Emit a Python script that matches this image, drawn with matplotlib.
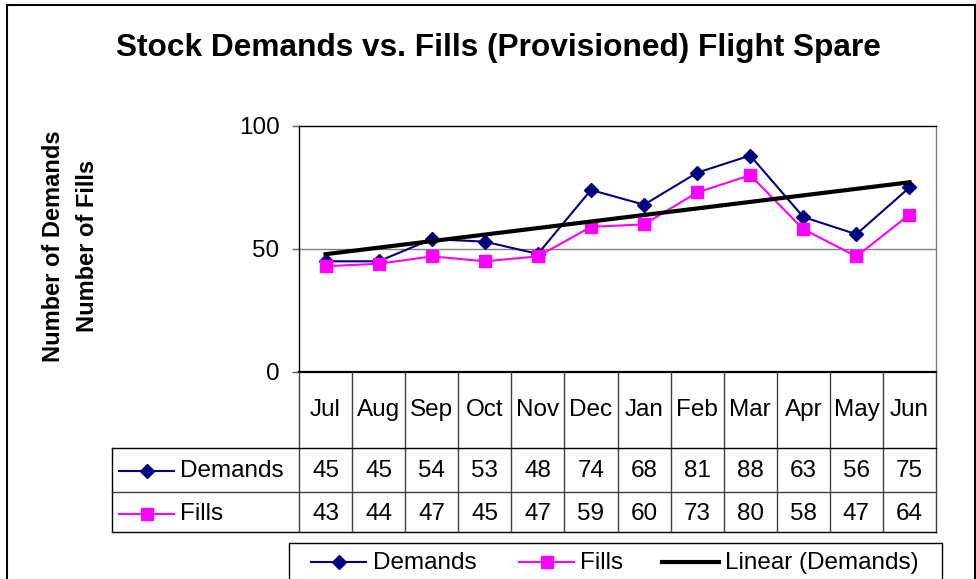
import numpy as np
import matplotlib
matplotlib.use("Agg")
import matplotlib.pyplot as plt
from matplotlib.lines import Line2D
from matplotlib.patches import Rectangle
from matplotlib.transforms import blended_transform_factory

months = ["Jul", "Aug", "Sep", "Oct", "Nov", "Dec",
          "Jan", "Feb", "Mar", "Apr", "May", "Jun"]
demands = [45, 45, 54, 53, 48, 74, 68, 81, 88, 63, 56, 75]
fills = [43, 44, 47, 45, 47, 59, 60, 73, 80, 58, 47, 64]

NAVY = "#000080"
MAGENTA = "#FF00FF"
FS = 17.5

W, H = 976, 579
plt.rcParams['font.family'] = ['Liberation Sans', 'DejaVu Sans']

fig = plt.figure(figsize=(W / 100, H / 100), dpi=100)


def fx(px):
    return px / W


def fy(py):
    return 1 - py / H


# plot area in pixels
L, R, T, B = 299, 936, 126, 372
ax = fig.add_axes([fx(L), fy(B), (R - L) / W, (B - T) / H])

x = np.arange(len(months))
trend = np.polyval(np.polyfit(x, demands, 1), x)

ax.axhline(50, color="#808080", lw=1, zorder=1)
ax.plot(x, demands, color=NAVY, lw=1.5, marker="D", ms=7, zorder=3)
ax.plot(x, fills, color=MAGENTA, lw=1.5, marker="s", ms=8, zorder=3)
ax.plot(x, trend, color="black", lw=3, zorder=4)

ax.set_xlim(-0.5, len(months) - 0.5)
ax.set_ylim(0, 100)
ax.set_yticks([0, 50, 100])
ax.set_xticks([])
ax.tick_params(axis="y", length=5, width=1, color="#606060", pad=9, labelsize=FS)
for s in ["left", "top"]:
    ax.spines[s].set_color("black")
    ax.spines[s].set_linewidth(1)
ax.spines["bottom"].set_linewidth(1.6)
ax.spines["right"].set_color("#808080")
ax.spines["right"].set_linewidth(1)

# title and axis label
fig.text(fx(498), fy(48), "Stock Demands vs. Fills (Provisioned) Flight Spare",
         fontsize=22.8, weight="bold", ha="center", va="center")
fig.text(fx(54), fy(246), "Number of Demands", fontsize=17, weight="bold",
         rotation=90, ha="center", va="center")
fig.text(fx(87), fy(246), "Number of Fills", fontsize=17, weight="bold",
         rotation=90, ha="center", va="center")

# data table under the plot
tr = blended_transform_factory(ax.transData, fig.transFigure)
grid_c = "#404040"
for b in np.arange(len(months) + 1) - 0.5:
    fig.add_artist(Line2D([b, b], [fy(B), fy(532)], transform=tr,
                          color=grid_c, lw=1))
for yy in [448, 492, 532]:
    fig.add_artist(Line2D([fx(112), fx(R)], [fy(yy), fy(yy)],
                          color="black" if yy != 492 else grid_c, lw=1))
fig.add_artist(Line2D([fx(112), fx(112)], [fy(448), fy(532)], color="black", lw=1))

for i, m in enumerate(months):
    fig.text(i, fy(410), m, transform=tr, ha="center", va="center", fontsize=FS)
    fig.text(i, fy(471), str(demands[i]), transform=tr, ha="center", va="center", fontsize=FS)
    fig.text(i, fy(514), str(fills[i]), transform=tr, ha="center", va="center", fontsize=FS)


def key(x0, y0, color, marker, ms, lw=1.5):
    fig.add_artist(Line2D([fx(x0), fx(x0 + 27.5), fx(x0 + 55)], [fy(y0)] * 3,
                          color=color, lw=lw, marker=marker, ms=ms, markevery=[1]))


key(119, 471, NAVY, "D", 7)
fig.text(fx(180), fy(471), "Demands", ha="left", va="center", fontsize=FS)
key(119, 514, MAGENTA, "s", 8)
fig.text(fx(180), fy(514), "Fills", ha="left", va="center", fontsize=FS)

# legend box at the bottom
fig.add_artist(Rectangle((fx(289), fy(590)), fx(942 - 289), (590 - 543) / H,
                         fill=False, edgecolor="black", lw=1))
key(311, 562, NAVY, "D", 7)
fig.text(fx(373), fy(563), "Demands", ha="left", va="center", fontsize=FS)
key(519, 562, MAGENTA, "s", 8)
fig.text(fx(580), fy(563), "Fills", ha="left", va="center", fontsize=FS)
fig.add_artist(Line2D([fx(662), fx(719)], [fy(562)] * 2, color="black", lw=3))
fig.text(fx(725), fy(563), "Linear (Demands)", ha="left", va="center", fontsize=FS)

# outer chart border
fig.add_artist(Rectangle((fx(7), fy(600)), fx(975 - 7), (600 - 5) / H,
                         fill=False, edgecolor="black", lw=1.5))

fig.savefig("out.png", dpi=100)
